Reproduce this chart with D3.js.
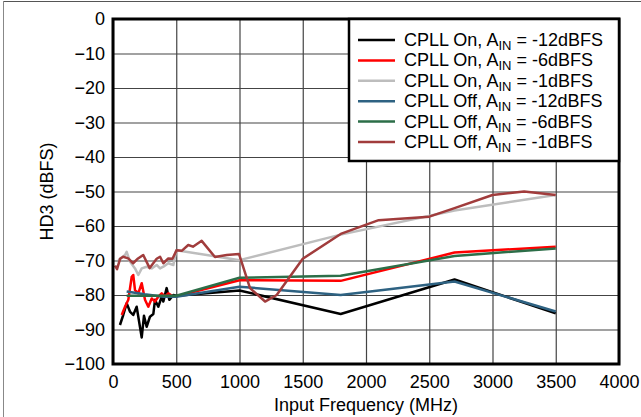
<!DOCTYPE html>
<html><head><meta charset="utf-8">
<script src="https://cdn.jsdelivr.net/npm/d3@7"></script>
<style>
html,body{margin:0;padding:0;background:#fff;}
svg{display:block;font-family:"Liberation Sans",Arial,Helvetica,sans-serif;}
</style></head>
<body>
<svg id="chart" width="641" height="417"></svg>
<script>
// ---------- data ----------
const xTicks = [0,500,1000,1500,2000,2500,3000,3500,4000];
const yTicks = [0,-10,-20,-30,-40,-50,-60,-70,-80,-90,-100];
const seriesNames = ["CPLL On", "CPLL On", "CPLL On", "CPLL Off", "CPLL Off", "CPLL Off"];
const seriesAmps = ["-12dBFS", "-6dBFS", "-1dBFS", "-12dBFS", "-6dBFS", "-1dBFS"];
const seriesColors = ["#000000", "#ff0000", "#bdbdbd", "#2e6282", "#2c6e48", "#a13c3c"];

const onM12 = [[55,-88.7],[81,-85.8],[108,-82.4],[134,-84.8],[160,-85.8],[187,-83.4],[227,-92.3],[245,-86],[266,-89.2],[292,-86.3],[319,-85.5],[332,-81.4],[358,-83.4],[385,-80.5],[398,-81.9],[424,-78],[445,-81.4],[477,-80],[500,-80.2],[1000,-78.7],[1800,-85.5],[2700,-75.5],[3500,-85.3]];
const onM6 = [[69,-85.8],[95,-83.4],[121,-81.4],[148,-74.7],[160,-74.2],[174,-78.6],[200,-79.5],[227,-76.6],[253,-81.4],[279,-83.4],[306,-81],[332,-81.9],[358,-80.5],[385,-79.5],[411,-80.5],[437,-79.5],[477,-80.5],[500,-80.4],[1000,-75.7],[1800,-75.9],[2700,-67.7],[3500,-66]];
const onM1 = [[42,-69.9],[95,-68.4],[108,-67.5],[134,-70.3],[174,-72.3],[200,-74.2],[227,-72.3],[266,-71.8],[306,-72.3],[345,-71.3],[372,-72.3],[398,-71.8],[437,-70.8],[477,-71.3],[500,-67],[1000,-69.9],[1800,-62.5],[2700,-55.5],[3500,-51]];
const offM12 = [[108,-79],[250,-79.8],[400,-80.5],[500,-80.5],[1000,-77.6],[1800,-80],[2700,-76.1],[3500,-84.8]];
const offM6 = [[108,-80.2],[300,-80.2],[500,-80.2],[1000,-75],[1800,-74.4],[2700,-68.7],[3500,-66.5]];
const offM1 = [[16,-71.5],[32,-72.5],[56,-69.5],[80,-68.9],[120,-69.4],[159,-70.8],[198,-69.4],[239,-68.4],[290,-72.2],[345,-69.5],[372,-68.9],[398,-70.8],[437,-69.4],[470,-69.5],[503,-67],[543,-67.2],[595,-65.5],[632,-66],[701,-64.3],[806,-69],[899,-68.4],[996,-68.1],[1083,-78],[1202,-81.9],[1294,-80],[1500,-69.5],[1800,-62.3],[2100,-58.3],[2500,-57.3],[2700,-54.8],[3000,-51],[3250,-50],[3500,-51]];
const seriesData = [onM12, onM6, onM1, offM12, offM6, offM1];

// ---------- layout ----------
const svg = d3.select("#chart");
const L = 113, R = 619, T = 19, B = 364;
const FS = 18;
const x = d3.scaleLinear().domain([0,4000]).range([L,R]);
const y = d3.scaleLinear().domain([-100,0]).range([B,T]);

// outer frame
svg.append("line").attr("x1",3).attr("x2",641).attr("y1",1.5).attr("y2",1.5).attr("stroke","#555").attr("stroke-width",1);
svg.append("line").attr("x1",3.5).attr("x2",3.5).attr("y1",1).attr("y2",417).attr("stroke","#888").attr("stroke-width",1);

// grid via axes
const gx = svg.append("g").attr("transform",`translate(0,${B})`)
  .call(d3.axisBottom(x).tickValues(xTicks).tickSize(-(B-T)).tickFormat(""));
gx.select(".domain").remove();
gx.selectAll("line").attr("stroke","#444").attr("stroke-width",1.2);
const gy = svg.append("g").attr("transform",`translate(${L},0)`)
  .call(d3.axisLeft(y).tickValues(yTicks).tickSize(-(R-L)).tickFormat(""));
gy.select(".domain").remove();
gy.selectAll("line").attr("stroke","#444").attr("stroke-width",1.2);

// tick labels via axes
const lx = svg.append("g").attr("transform",`translate(0,${B})`)
  .call(d3.axisBottom(x).tickValues(xTicks).tickSize(0).tickPadding(11).tickFormat(d3.format("d")));
lx.select(".domain").remove();
lx.selectAll("text").attr("font-size",FS).attr("fill","#000").attr("font-family","Liberation Sans, Arial, sans-serif");
const ly = svg.append("g").attr("transform",`translate(${L},0)`)
  .call(d3.axisLeft(y).tickValues(yTicks).tickSize(0).tickPadding(8).tickFormat(d3.format("d")));
ly.select(".domain").remove();
ly.selectAll("text").attr("font-size",FS).attr("fill","#000").attr("font-family","Liberation Sans, Arial, sans-serif");

// lines
const line = d3.line().x(d=>x(d[0])).y(d=>y(d[1]));
seriesData.forEach((s,i)=>{
  svg.append("path").datum(s).attr("d",line).attr("fill","none")
    .attr("stroke",seriesColors[i]).attr("stroke-width",2.5).attr("stroke-linejoin","round");
});
// plot frame
svg.append("rect").attr("x",L).attr("y",T).attr("width",R-L).attr("height",B-T)
  .attr("fill","none").attr("stroke","#000").attr("stroke-width",3);

// legend
const lg = svg.append("g");
lg.append("rect").attr("x",349).attr("y",T).attr("width",R-349).attr("height",142)
  .attr("fill","#fff").attr("stroke","#000").attr("stroke-width",2.5);
seriesNames.forEach((n,i)=>{
  const cy = 40 + i*20.4;
  lg.append("line").attr("x1",358).attr("x2",395).attr("y1",cy).attr("y2",cy)
    .attr("stroke",seriesColors[i]).attr("stroke-width",2.5);
  const t = lg.append("text").attr("x",404).attr("y",cy+6).attr("font-size",FS).attr("fill","#000");
  t.append("tspan").text(n + ", A");
  t.append("tspan").attr("font-size",13).attr("dy",4).text("IN");
  t.append("tspan").attr("dy",-4).text(" = " + seriesAmps[i]);
});

// axis titles
svg.append("text").attr("x",(L+R)/2).attr("y",411).attr("text-anchor","middle")
  .attr("font-size",FS).attr("fill","#000").text("Input Frequency (MHz)");
svg.append("text").attr("transform",`translate(53,${(T+B)/2}) rotate(-90)`).attr("text-anchor","middle")
  .attr("font-size",FS).attr("fill","#000").text("HD3 (dBFS)");
</script>
</body></html>
